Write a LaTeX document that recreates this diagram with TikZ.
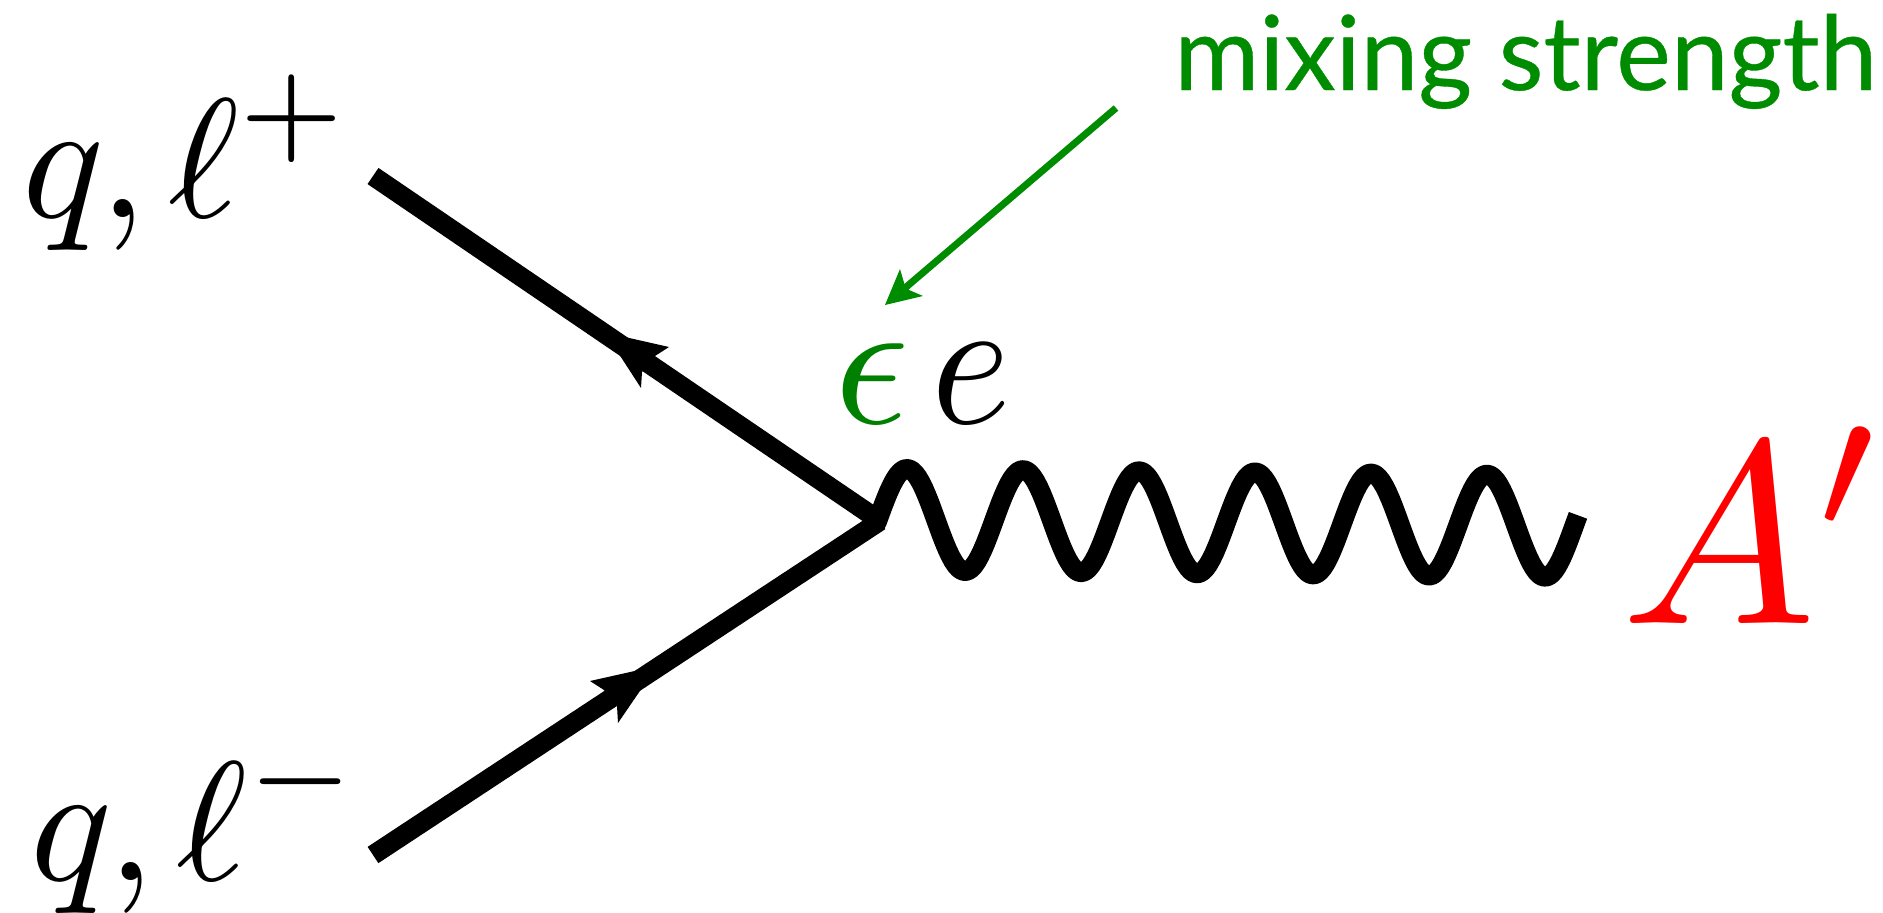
\documentclass[tikz,border=0pt]{standalone}
\usepackage{fontspec}
\newfontfamily\labelfont[FakeBold=0.35]{Lato}
\definecolor{mixgreen}{HTML}{008C00}
\definecolor{epsgreen}{HTML}{008000}
\tikzset{
  x=1pt,y=-1pt,
  fermion/.style={line width=19.5pt,black},
  photon/.style={line width=19.5pt,black,line join=round},
  tiphead/.style={fill=black,draw=none},
  mathlabel/.style={anchor=base west,inner sep=0pt,outer sep=0pt,scale=17},
  mixarrow/.style={line width=7pt,mixgreen},
}
\newcommand{\qlabel}[1]{$q\mskip-0.5mu{,}\mskip2.4mu\ell^{\raise0.4pt\hbox{$\scriptstyle #1$}}$}
\begin{document}
\begin{tikzpicture}
\useasboundingbox (0,0) rectangle (1883,913);
\coordinate (v) at (880,521);
\coordinate (a) at (373,176);
\coordinate (b) at (373,855);
\coordinate (wstart) at (877,522);
\coordinate (mixstart) at (1116,108);
\coordinate (mixend) at (905,288);
% lines
\draw[fermion] (a) -- (v);
\draw[fermion] (b) -- (v);
% arrowheads
\fill[tiphead] (605,332.5) -- (669,347) -- (655,356) -- (642,372) -- (641,388) -- cycle;
\fill[tiphead] (657,666) -- (590,681) -- (604,690) -- (617,706) -- (618,723) -- cycle;
% wiggle
\draw[photon] (wstart) -- plot[domain=877:1578,samples=240] (\x,{520+0.0098*(\x-935)-51*cos(3.10345*(\x-907))});
% mixing arrow
\draw[mixarrow] (mixstart) -- (mixend);
\fill[mixgreen] (885,305) -- (900,269) -- (905,286) -- (909,290) -- (923,296) -- cycle;
% labels
\node[anchor=base west,inner sep=0pt,text=mixgreen] (mix) at (1174,90) {\labelfont\fontsize{103.5}{104}\selectfont mixing strength};
\node[mathlabel] (top) at (22,217) {\qlabel{+}};
\node[mathlabel] (bot) at (30,880) {\qlabel{-}};
\node[mathlabel,scale=18.5/17,text=epsgreen] (eps) at (834,423) {$\epsilon$};
\node[mathlabel,scale=18.5/17,xscale=0.92] (e) at (931,423) {$e$};
\node[mathlabel,scale=26/17,text=red] (ap) at (1621,623) {$A'$};
\end{tikzpicture}
\end{document}
